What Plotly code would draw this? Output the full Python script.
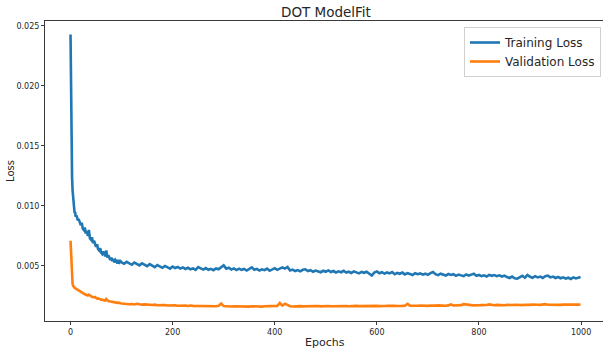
import plotly.graph_objects as go

# ---------------- data ----------------
epochs_early = list(range(0, 11))
epochs_mid = list(range(12, 100, 2))
epochs_late = list(range(100, 1000, 5)) + [999]

train_early = [0.02426, 0.0188, 0.0139, 0.0124, 0.0113, 0.0106, 0.0101, 0.0097, 0.0094, 0.0095, 0.0091]
train_mid = [
    0.0092, 0.0088, 0.0089, 0.0085, 0.0084, 0.0086, 0.0081, 0.0080, 0.0082, 0.0077,
    0.0079, 0.0075, 0.0080, 0.0073, 0.0072, 0.0074, 0.0069, 0.0071, 0.0067, 0.0066,
    0.0068, 0.0064, 0.0063, 0.0065, 0.0061, 0.0060, 0.0062, 0.0059, 0.0058, 0.0063,
    0.0057, 0.0059, 0.0056, 0.0055, 0.0057, 0.0054, 0.0056, 0.0053, 0.0055, 0.0054,
    0.0052, 0.0055, 0.0053, 0.0054,
]
train_late = [
    0.00530, 0.00518, 0.00535, 0.00522, 0.00510, 0.00528, 0.00515, 0.00505, 0.00522, 0.00508,
    0.00498, 0.00515, 0.00502, 0.00490, 0.00508, 0.00495, 0.00485, 0.00500, 0.00490, 0.00478,
    0.00495, 0.00483, 0.00492, 0.00478, 0.00488, 0.00475, 0.00485, 0.00472, 0.00480, 0.00468,
    0.00490, 0.00478, 0.00470, 0.00482, 0.00468, 0.00476, 0.00465, 0.00480, 0.00472, 0.00490,
    0.00505, 0.00478, 0.00485, 0.00470, 0.00480, 0.00466, 0.00478, 0.00468, 0.00475, 0.00462,
    0.00472, 0.00488, 0.00468, 0.00476, 0.00462, 0.00472, 0.00465, 0.00478, 0.00460, 0.00472,
    0.00482, 0.00468, 0.00476, 0.00488, 0.00478, 0.00492, 0.00462, 0.00470, 0.00458, 0.00466,
    0.00455, 0.00468, 0.00472, 0.00458, 0.00465, 0.00452, 0.00462, 0.00455, 0.00448, 0.00460,
    0.00452, 0.00463, 0.00450, 0.00458, 0.00446, 0.00455, 0.00448, 0.00460, 0.00445, 0.00452,
    0.00442, 0.00455, 0.00446, 0.00438, 0.00450, 0.00443, 0.00452, 0.00436, 0.00420, 0.00445,
    0.00455, 0.00440, 0.00448, 0.00436, 0.00446, 0.00438, 0.00450, 0.00432, 0.00442, 0.00435,
    0.00445, 0.00430, 0.00440, 0.00433, 0.00425, 0.00440, 0.00432, 0.00438, 0.00428, 0.00436,
    0.00426, 0.00440, 0.00450, 0.00432, 0.00424, 0.00436, 0.00428, 0.00420, 0.00433, 0.00425,
    0.00432, 0.00418, 0.00428, 0.00422, 0.00415, 0.00430, 0.00420, 0.00428, 0.00435, 0.00418,
    0.00425, 0.00415, 0.00422, 0.00412, 0.00426, 0.00418, 0.00424, 0.00415, 0.00422, 0.00412,
    0.00420, 0.00408, 0.00400, 0.00412, 0.00398, 0.00395, 0.00410, 0.00418, 0.00402, 0.00425,
    0.00410, 0.00402, 0.00415, 0.00405, 0.00412, 0.00400, 0.00415, 0.00420, 0.00405, 0.00412,
    0.00400, 0.00408, 0.00398, 0.00405, 0.00395, 0.00402, 0.00392, 0.00405, 0.00396, 0.00402,
    0.00408,
]

val_early = [0.00710, 0.00590, 0.00460, 0.00385, 0.00352, 0.00335, 0.00325, 0.00322, 0.00318, 0.00315, 0.00312]
val_mid = [
    0.00305, 0.00300, 0.00296, 0.00288, 0.00282, 0.00280, 0.00272, 0.00270, 0.00265, 0.00262,
    0.00258, 0.00255, 0.00262, 0.00250, 0.00248, 0.00244, 0.00240, 0.00238, 0.00242, 0.00232,
    0.00228, 0.00230, 0.00224, 0.00222, 0.00220, 0.00218, 0.00222, 0.00215, 0.00212, 0.00225,
    0.00214, 0.00208, 0.00206, 0.00204, 0.00202, 0.00205, 0.00199, 0.00197, 0.00198, 0.00194,
    0.00193, 0.00195, 0.00190, 0.00189,
]
val_late = [
    0.00188, 0.00185, 0.00186, 0.00182, 0.00183, 0.00180, 0.00185, 0.00179, 0.00178, 0.00180,
    0.00176, 0.00177, 0.00175, 0.00178, 0.00173, 0.00175, 0.00172, 0.00174, 0.00171, 0.00173,
    0.00170, 0.00172, 0.00169, 0.00171, 0.00168, 0.00170, 0.00167, 0.00171, 0.00168, 0.00167,
    0.00169, 0.00166, 0.00168, 0.00165, 0.00167, 0.00164, 0.00166, 0.00165, 0.00168, 0.00188,
    0.00166, 0.00164, 0.00166, 0.00163, 0.00165, 0.00164, 0.00162, 0.00165, 0.00163, 0.00164,
    0.00162, 0.00165, 0.00163, 0.00162, 0.00164, 0.00162, 0.00165, 0.00166, 0.00164, 0.00167,
    0.00165, 0.00168, 0.00192, 0.00170, 0.00186, 0.00172, 0.00165, 0.00163, 0.00165, 0.00163,
    0.00166, 0.00164, 0.00165, 0.00163, 0.00166, 0.00168, 0.00165, 0.00167, 0.00164, 0.00166,
    0.00165, 0.00167, 0.00165, 0.00166, 0.00164, 0.00167, 0.00165, 0.00168, 0.00166, 0.00165,
    0.00167, 0.00166, 0.00168, 0.00166, 0.00167, 0.00165, 0.00168, 0.00166, 0.00169, 0.00167,
    0.00168, 0.00166, 0.00169, 0.00167, 0.00168, 0.00166, 0.00169, 0.00168, 0.00167, 0.00170,
    0.00168, 0.00169, 0.00185, 0.00170, 0.00168, 0.00170, 0.00169, 0.00171, 0.00169, 0.00170,
    0.00168, 0.00171, 0.00169, 0.00170, 0.00172, 0.00170, 0.00171, 0.00169, 0.00172, 0.00180,
    0.00171, 0.00173, 0.00171, 0.00174, 0.00182, 0.00178, 0.00172, 0.00174, 0.00172, 0.00175,
    0.00173, 0.00174, 0.00172, 0.00175, 0.00180, 0.00174, 0.00173, 0.00176, 0.00174, 0.00175,
    0.00173, 0.00176, 0.00174, 0.00175, 0.00177, 0.00175, 0.00176, 0.00174, 0.00177, 0.00175,
    0.00176, 0.00178, 0.00175, 0.00177, 0.00176, 0.00178, 0.00182, 0.00177, 0.00176, 0.00178,
    0.00177, 0.00179, 0.00176, 0.00178, 0.00177, 0.00179, 0.00178, 0.00177, 0.00179, 0.00178,
    0.00179,
]

x_ticks = [0, 200, 400, 600, 800, 1000]
y_ticks = [0.005, 0.010, 0.015, 0.020, 0.025]

epochs = epochs_early + epochs_mid + epochs_late
train_loss = train_early + train_mid + train_late
val_loss = val_early + val_mid + val_late
assert len(epochs) == len(train_loss) == len(val_loss), (len(epochs), len(train_loss), len(val_loss))

# ---------------- figure ----------------
FONT = "DejaVu Sans"
AX = "#3a3a3a"

fig = go.Figure()
fig.add_trace(go.Scatter(x=epochs, y=train_loss, mode="lines", name="Training Loss",
                         line=dict(color="#1f77b4", width=2.6)))
fig.add_trace(go.Scatter(x=epochs, y=val_loss, mode="lines", name="Validation Loss",
                         line=dict(color="#ff7f0e", width=2.6)))

fig.update_layout(
    width=603, height=356,
    margin=dict(l=45, r=0, t=21, b=35, autoexpand=False),
    paper_bgcolor="white", plot_bgcolor="white",
    font=dict(family=FONT, color="#262626"),
    title=dict(text="DOT ModelFit", font=dict(size=13.5, family=FONT, color="#262626"),
               x=0.5035, xref="paper", xanchor="center",
               y=1 - 12 / 356, yref="container", yanchor="middle"),
    showlegend=True,
    legend=dict(x=0.9964, y=0.98, xanchor="right", yanchor="top",
                bgcolor="rgba(255,255,255,0.9)", bordercolor="#d0d0d0", borderwidth=1,
                font=dict(size=12, family=FONT, color="#262626"),
                itemwidth=30, tracegroupgap=0),
)

fig.update_xaxes(range=[-50, 1043], tickvals=x_ticks, ticktext=[str(v) for v in x_ticks],
                 showgrid=False, zeroline=False, showline=True, linecolor=AX, linewidth=1,
                 mirror=True, ticks="outside", ticklen=3, tickwidth=1, tickcolor=AX,
                 tickfont=dict(size=8, family=FONT, color="#262626"))
fig.update_yaxes(range=[0.00042, 0.02539], tickvals=y_ticks, tickformat=".3f",
                 showgrid=False, zeroline=False, showline=True, linecolor=AX, linewidth=1,
                 mirror=False, ticks="outside", ticklen=3, tickwidth=1, tickcolor=AX,
                 tickfont=dict(size=8, family=FONT, color="#262626"))

fig.add_annotation(text="Epochs", xref="paper", yref="paper", x=0.5018, y=-0.07,
                   xanchor="center", yanchor="middle", showarrow=False,
                   font=dict(size=11, family=FONT, color="#262626"))
fig.add_annotation(text="Loss", xref="paper", yref="paper", x=-0.0627, y=0.5,
                   xanchor="center", yanchor="middle", textangle=-90, showarrow=False,
                   font=dict(size=10, family=FONT, color="#262626"))

fig.write_html("out.html")
